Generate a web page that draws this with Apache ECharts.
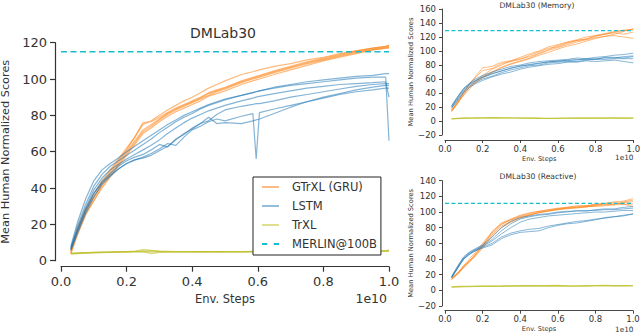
<!DOCTYPE html>
<html>
<head>
<meta charset="utf-8">
<script src="https://cdn.jsdelivr.net/npm/echarts@6/dist/echarts.min.js"></script>
<style>
html,body{margin:0;padding:0;background:#fff;}
#c{width:640px;height:334px;}
</style>
</head>
<body>
<div id="c"></div>
<script>
// ---------- DATA ----------
const seriesNames = ['GTrXL (GRU)', 'LSTM', 'TrXL', 'MERLIN@100B'];
const xTicks = [0, 0.2, 0.4, 0.6, 0.8, 1.0];

// Main panel (DMLab30)
const mainX = [0.03,0.05,0.075,0.1,0.125,0.15,0.175,0.2,0.225,0.25,0.275,0.3,0.325,0.35,0.375,0.4,0.425,0.45,0.475,0.5,0.55,0.585,0.595,0.605,0.65,0.7,0.75,0.8,0.85,0.9,0.95,0.99,1.0];
const mainGTrXL = [
  [5,17,28,35,42,48,54,60,66,72,75,78,81,83.5,85.5,87.5,89.5,92,93.5,95,98.5,100.5,101,101.5,104,106.5,109,111,113,115,116.5,117.5,118],
  [6,18,29,37,44,50,56,62,68,75,77,80,83,85.5,88,90,92.5,95,97,99,102.5,104,104.5,105,107,108.5,110.5,112,114,115.5,117,118,118.5],
  [4,15,26,33,40,46,52,58,64,70,73,76.5,79.5,82,84,86,88,90.5,92,93.5,97,99,99.5,100,102.5,105,107.5,110,112,114,116,117,117.5],
  [5,16,27,35,43,49,55,61,68,76,76.5,79,81.5,84,86,88,90,92.5,94,95.5,99,101,101.5,102,104.5,107,109.5,111.5,113.5,115.5,117,118,118.5],
  [4,14,25,33,41,47,53,59,65,71,74,77.5,80.5,83,85,87,89,91,93,94.5,98,100,100.5,101,103.5,106,108.5,110.5,112.5,114.5,116,117,117]
];
const mainLSTM = [
  [8,21,34,44,50,53.5,56.5,60,63,66,69,72,75,77.5,80,82,84,86,87.5,89,91,92.5,93,93.5,95,96.5,97.5,98.5,99.5,100.5,101,101,66],
  [7,19,31,41,47.5,52,55,58,61,64,67,70.5,73.5,76.5,79,81,83.5,85.5,87,88.5,91,92.5,93,93.5,95.5,97,98.5,99.5,100.5,101.5,102,103,103],
  [6,17,29,39,45.5,50,53,56,58.5,61,63.5,66.5,70,73,76,78.5,80.5,82.5,84,85.5,88,89.5,90,90.5,92,93.5,95,96,97,97.5,98,98.5,90],
  [6,16,27,37,43.5,48,52,55,57,58.5,61,64,62.5,67,69.5,73,75.5,77,80.5,83,85,86,86.5,86.5,88,90,91.5,93,94.5,96,97,97.5,97.5],
  [7,17,28,37,43,47,50.5,53.5,55.5,57,59,61.5,64.5,63.5,68,72,74,76.5,78,77,79.5,81,56,81.5,83.5,85.5,87.5,89.5,91.5,93,94,95,95],
  [6,15,26,35,42,46.5,50.5,53.5,55.5,56.5,58,60.5,63,66.5,70,72.5,75.5,79,75.5,76,75.5,77,77.5,78,81,84.5,87.5,90,92,94,95.5,96.5,96.5]
];
const mainTrXL = [
  [4,4.1,4.3,4.5,4.6,4.7,4.8,4.9,5,5.1,5.2,5.1,5,5,5,5,4.9,5,5,5,5,5.1,5.1,5.1,5,5,5.1,5.1,5.2,5.2,5.3,5.4,5.5],
  [4,4.2,4.4,4.6,4.7,4.8,4.9,5,5.2,6,5.6,5.2,5.1,5,5,5,5,5,4.9,5,5,5,5,5,5,5,5,5,5,5.1,5.1,5.2,5.3],
  [3.8,4,4.2,4.3,4.5,4.6,4.7,4.8,4.9,4.9,4,4.6,4.7,4.8,4.8,4.8,4.8,4.8,4.8,4.8,4.8,4.9,4.9,4.9,4.9,4.9,5,5,5,5,5.1,5.3,6]
];
const mainMerlin = 115;

// Small panels share an x grid
const smallX = [0.035,0.06,0.08,0.1,0.13,0.16,0.2,0.25,0.3,0.35,0.4,0.45,0.5,0.55,0.6,0.65,0.7,0.75,0.8,0.85,0.9,0.95,1.0];

// DMLab30 (Memory)
const memGTrXL = [
  [15,25,33,41,52,62,72,75,82,85,88,94,99,104,106,111,115,117,122,124,127,129,131],
  [14,23,31,39,49,57,65,74,80,86,91,96,100,106,109,113,116,120,122,125,128,130,130],
  [16,24,31,38,48,56,63,70,77,82,86,90,96,101,105,109,113,116,119,121,122,120,118],
  [15,24,32,42,53,63,76,78,84,86,89,92,97,102,108,112,115,117,121,124,126,124,127],
  [13,22,30,37,46,54,62,69,76,81,85,89,94,98,103,107,110,114,118,121,124,128,132]
];
const memLSTM = [
  [22,32,40,47,54,60,65,70,74,78,80,83,85,86,87,88,90,89,91,92,94,95,97],
  [20,30,38,45,52,57,62,67,72,75,79,80,83,84,86,86,88,88,89,90,90,92,93],
  [18,28,36,43,50,55,60,64,69,73,76,79,80,83,84,85,85,87,88,88,89,89,89],
  [21,31,39,46,53,58,63,68,71,76,78,81,82,85,85,87,87,89,88,91,91,90,92],
  [19,27,34,41,48,53,58,63,67,70,74,77,79,81,82,84,84,86,85,86,87,85,83]
];
const memTrXL = [
  [3,3.5,3.8,4,4,4.2,4.3,4.5,4.6,4.4,4.3,4.2,4,3.8,3.9,4,4.1,4.2,4.3,4.2,4.1,4.2,4.3],
  [3.5,3.7,3.9,4.1,4.3,4.4,4.6,4.8,4.5,4.3,4.1,4,3.7,3.6,3.8,3.9,4,4,4.1,4.3,4.4,4.2,4.1]
];
const memMerlin = 129;

// DMLab30 (Reactive)
const reaGTrXL = [
  [15,20,26,32,40,48,60,75,86,91,96,99,101,103,105,106,108,108,109,111,113,114,117],
  [14,19,24,30,37,44,56,71,82,88,93,96,99,102,103,105,105,107,108,109,110,112,113],
  [16,21,25,31,38,45,58,73,84,90,95,98,101,101,104,104,106,107,107,108,109,110,110],
  [15,20,25,30,36,43,54,69,80,87,92,96,100,103,104,106,107,108,110,111,112,110,107],
  [14,19,24,29,37,46,57,74,85,90,94,97,99,101,103,105,106,106,109,110,110,113,115]
];
const reaLSTM = [
  [18,28,36,43,49,53,58,68,80,88,93,95,97,98,100,101,101,102,102,103,103,104,105],
  [17,27,35,42,48,52,57,65,76,85,91,94,96,97,99,100,102,101,103,104,104,106,107],
  [16,26,34,41,47,51,56,63,72,80,87,91,93,95,96,97,98,99,100,100,101,102,102],
  [17,26,33,40,46,50,55,60,68,73,76,78,79,82,84,86,88,89,91,92,94,95,98],
  [16,25,33,40,46,51,54,58,66,71,74,75,76,80,83,85,86,88,90,93,94,96,97]
];
const reaTrXL = [
  [4.5,4.8,5,5,5.2,5.3,5.3,5.5,5.6,5.8,6,6.2,6,6.1,6.3,5.8,5.6,6,6.2,6.3,6,6.1,6.2],
  [4,4.3,4.5,4.6,4.8,4.9,5,5.1,5,5.3,5.5,5.7,5.4,5.6,5.5,5.3,5.2,5.5,5.7,5.8,5.6,5.7,5.8]
];
const reaMerlin = 111;

// ---------- CHART ----------
const FONT = 'DejaVu Sans';
const C_OR = '#ff7f0e', C_BL = '#1f77b4', C_TR = '#bcbd22', C_ME = '#17becf';
const AX = '#333';

function seedSeries(arrs, xs, name, color, gi, width, opacity) {
  return arrs.map(a => ({
    type: 'line', name: name, xAxisIndex: gi, yAxisIndex: gi,
    data: xs.map((x, i) => [x, a[i]]),
    symbol: 'none', showSymbol: false, silent: true, animation: false,
    lineStyle: { color: color, width: width, opacity: opacity },
    itemStyle: { color: color }
  }));
}
function merlinSeries(v, gi, width, dash) {
  return {
    type: 'line', name: seriesNames[3], xAxisIndex: gi, yAxisIndex: gi,
    data: [[0, v], [1, v]], symbol: 'none', silent: true, animation: false,
    lineStyle: { color: C_ME, width: width, type: dash },
    itemStyle: { color: C_ME }
  };
}
function xAx(gi, o) {
  return {
    type: 'value', gridIndex: gi, min: 0, max: 1, interval: 0.2, offset: o.offset,
    axisLine: { show: true, onZero: false, lineStyle: { color: AX, width: o.lw } },
    axisTick: { show: true, length: o.tick, lineStyle: { color: AX, width: o.lw } },
    axisLabel: { fontSize: o.fs, color: AX, margin: o.margin, fontFamily: FONT,
      showMinLabel: true, showMaxLabel: true, formatter: v => v.toFixed(1) },
    splitLine: { show: false },
    name: 'Env. Steps', nameLocation: 'middle', nameGap: o.nameGap,
    nameTextStyle: { fontSize: o.nfs, color: AX, fontFamily: FONT }
  };
}
function yAx(gi, o) {
  return {
    type: 'value', gridIndex: gi, min: o.min, max: o.max, interval: 20, offset: o.offset,
    axisLine: { show: true, onZero: false, lineStyle: { color: AX, width: o.lw } },
    axisTick: { show: true, length: o.tick, lineStyle: { color: AX, width: o.lw } },
    axisLabel: { fontSize: o.fs, color: AX, margin: o.margin, fontFamily: FONT,
      showMinLabel: true, showMaxLabel: true, formatter: v => (v < 0 ? '\u2212' + Math.abs(v) : String(v)) },
    splitLine: { show: false },
    name: 'Mean Human Normalized Scores', nameLocation: 'middle', nameGap: o.nameGap, nameRotate: 90,
    nameTextStyle: { fontSize: o.nfs, color: AX, fontFamily: FONT }
  };
}

let series = [];
series = series.concat(seedSeries(mainGTrXL, mainX, seriesNames[0], C_OR, 0, 1.2, 0.55));
series = series.concat(seedSeries(mainLSTM, mainX, seriesNames[1], C_BL, 0, 1.2, 0.55));
series = series.concat(seedSeries(mainTrXL, mainX, seriesNames[2], C_TR, 0, 1.4, 0.6));
series.push(merlinSeries(mainMerlin, 0, 1.6, [6, 3.5]));
series = series.concat(seedSeries(memGTrXL, smallX, seriesNames[0], C_OR, 1, 0.9, 0.6));
series = series.concat(seedSeries(memLSTM, smallX, seriesNames[1], C_BL, 1, 0.9, 0.6));
series = series.concat(seedSeries(memTrXL, smallX, seriesNames[2], C_TR, 1, 1.2, 0.7));
series.push(merlinSeries(memMerlin, 1, 1.2, [4, 2.5]));
series = series.concat(seedSeries(reaGTrXL, smallX, seriesNames[0], C_OR, 2, 0.9, 0.6));
series = series.concat(seedSeries(reaLSTM, smallX, seriesNames[1], C_BL, 2, 0.9, 0.6));
series = series.concat(seedSeries(reaTrXL, smallX, seriesNames[2], C_TR, 2, 1.2, 0.7));
series.push(merlinSeries(reaMerlin, 2, 1.2, [4, 2.5]));

function gText(text, x, y, size, align) {
  return { type: 'text', x: x, y: y, silent: true,
    style: { text: text, fill: AX, fontSize: size, fontFamily: FONT, align: align, verticalAlign: 'middle' } };
}

const SOLID_ICON = 'path://M0,0h17v2h-17z';
const DASH_ICON = 'path://M0,0h5v2h-5zM11,0h5v2h-5z';

const option = {
  animation: false,
  backgroundColor: '#fff',
  textStyle: { fontFamily: FONT },
  grid: [
    { left: 61, right: 251, top: 42.7, bottom: 73.3, outerBoundsMode: 'none', containLabel: false },
    { left: 445, right: 6.7, top: 9, bottom: 199, outerBoundsMode: 'none', containLabel: false },
    { left: 445, right: 7, top: 180.7, bottom: 28, outerBoundsMode: 'none', containLabel: false }
  ],
  xAxis: [
    xAx(0, { offset: 6, lw: 1.2, tick: 5, fs: 13, margin: 8, nameGap: 26, nfs: 11.5 }),
    xAx(1, { offset: 5, lw: 0.9, tick: 3, fs: 8.5, margin: 4, nameGap: 15, nfs: 6.6 }),
    xAx(2, { offset: 4.7, lw: 0.9, tick: 3, fs: 8.5, margin: 4, nameGap: 15, nfs: 6.6 })
  ],
  yAxis: [
    yAx(0, { min: 0, max: 120, offset: 6, lw: 1.2, tick: 5, fs: 13, margin: 8, nameGap: 37.5, nfs: 11.3 }),
    yAx(1, { min: -20, max: 160, offset: 3, lw: 0.9, tick: 3, fs: 8.5, margin: 6, nameGap: 25, nfs: 6.7 }),
    yAx(2, { min: -20, max: 140, offset: 3, lw: 0.9, tick: 3, fs: 8.5, margin: 6, nameGap: 25, nfs: 6.7 })
  ],
  legend: {
    left: 253, top: 177, orient: 'vertical',
    backgroundColor: '#fff', borderColor: '#222', borderWidth: 1,
    padding: [4, 4, 5, 9], itemGap: 7, itemWidth: 17, itemHeight: 2,
    symbolKeepAspect: false,
    textStyle: { fontSize: 11.5, color: AX, fontFamily: FONT, padding: [0, 0, 0, 8] },
    data: [
      { name: seriesNames[0], icon: SOLID_ICON, itemStyle: { color: '#ffbb85', borderWidth: 0 } },
      { name: seriesNames[1], icon: SOLID_ICON, itemStyle: { color: '#93bddb', borderWidth: 0 } },
      { name: seriesNames[2], icon: SOLID_ICON, itemStyle: { color: '#dfe08f', borderWidth: 0 } },
      { name: seriesNames[3], icon: DASH_ICON, itemStyle: { color: C_ME, borderWidth: 0 } }
    ]
  },
  graphic: [
    gText('DMLab30', 223, 33, 14, 'center'),
    gText('1e10', 387, 298.7, 12.5, 'right'),
    gText('DMLab30 (Memory)', 537, 5, 7.6, 'center'),
    gText('1e10', 633.5, 157, 7.3, 'right'),
    gText('DMLab30 (Reactive)', 538, 176, 7.6, 'center'),
    gText('1e10', 633.5, 329, 7.3, 'right')
  ],
  series: series
};

const chart = echarts.init(document.getElementById('c'), null, { renderer: 'svg' });
chart.setOption(option);
</script>
</body>
</html>
